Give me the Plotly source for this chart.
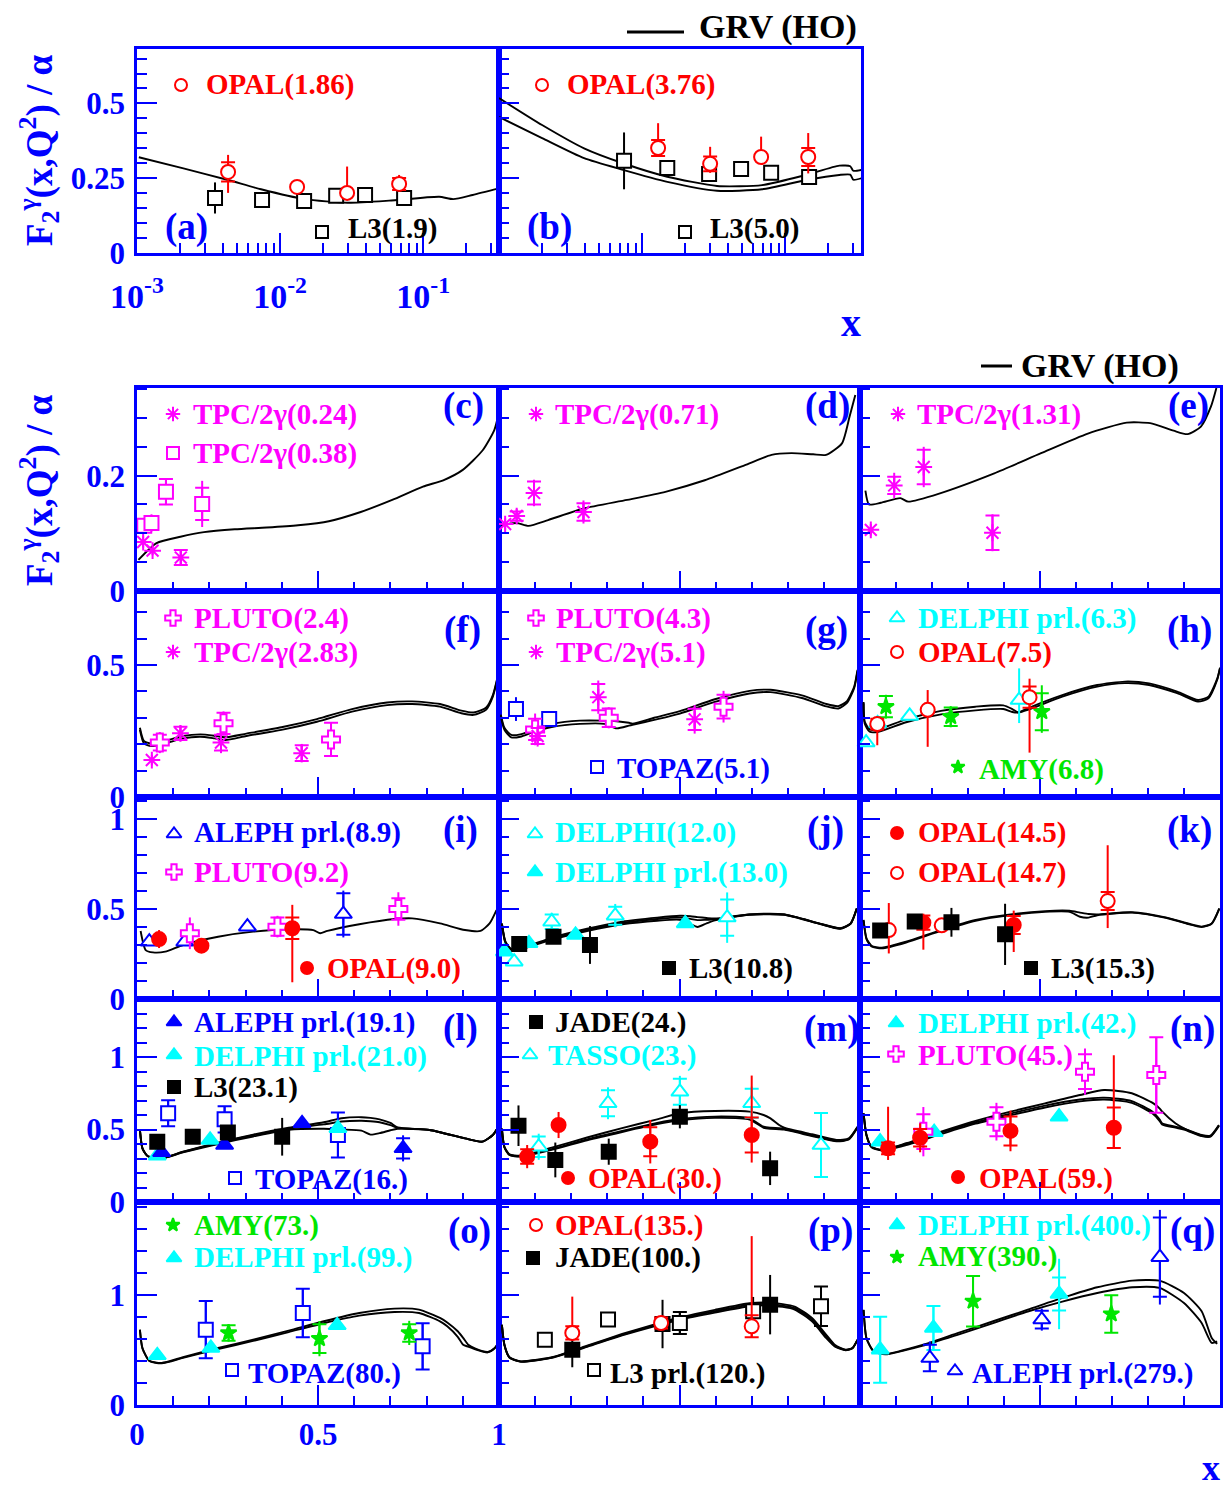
import plotly.graph_objects as go

W, H = 1225, 1491
FONT = "Liberation Serif"
BLUE, RED, MAG, CYAN, GREEN, BLACK = "#0000ff", "#ff0000", "#ff00ff", "#00ffff", "#00e600", "#000000"

# ------------------------------------------------------------------
# Photon structure function F2^gamma(x,Q^2)/alpha, <Q^2> in GeV^2
# ------------------------------------------------------------------
# (a) low-x, Q^2 ~ 1.9
a_opal_x = [0.00433, 0.01315, 0.0294, 0.0679]
a_opal_y = [0.271, 0.221, 0.201, 0.231]
a_opal_eup = [0.057, 0.015, 0.088, 0.030]
a_opal_edn = [0.070, 0.015, 0.024, 0.020]
a_opal_stat = [0.032, 0.0, 0.0, 0.020]
a_l3_x = [0.00351, 0.00748, 0.01472, 0.02466, 0.03926, 0.0736]
a_l3_y = [0.184, 0.177, 0.174, 0.191, 0.194, 0.184]
a_l3_err = [0.052, 0.010, 0.010, 0.010, 0.010, 0.012]
a_grv_x = [0.00103, 0.00211, 0.00433, 0.00736, 0.01486, 0.0296, 0.0578, 0.1294, 0.1622, 0.2218, 0.338]
a_grv_y = [0.320, 0.283, 0.244, 0.213, 0.180, 0.168, 0.175, 0.188, 0.180, 0.194, 0.216]

# (b) low-x, Q^2 ~ 3.8-5
b_opal_x = [0.01294, 0.0299, 0.0679, 0.1449]
b_opal_y = [0.351, 0.298, 0.321, 0.321]
b_opal_eup = [0.083, 0.057, 0.068, 0.080]
b_opal_edn = [0.030, 0.030, 0.020, 0.055]
b_opal_stat = [0.027, 0.025, 0.0, 0.030]
b_l3_x = [0.00748, 0.0150, 0.0294, 0.0492, 0.0798, 0.147]
b_l3_y = [0.308, 0.284, 0.264, 0.281, 0.268, 0.254]
b_l3_err = [0.095, 0.020, 0.015, 0.012, 0.012, 0.025]
b_grv_x = [0.00100, 0.00200, 0.00393, 0.00736, 0.0150, 0.0334, 0.0690, 0.140, 0.239, 0.285, 0.299, 0.342]
b_grv1_y = [0.518, 0.428, 0.350, 0.300, 0.255, 0.224, 0.227, 0.261, 0.292, 0.290, 0.275, 0.278]
b_grv2_y = [0.455, 0.384, 0.317, 0.278, 0.238, 0.208, 0.213, 0.244, 0.261, 0.262, 0.245, 0.250]

# (c)
c_tpc24_x = [0.017, 0.043, 0.121]
c_tpc24_y = [0.085, 0.070, 0.058]
c_tpc24_err = [0.010, 0.008, 0.013]
c_tpc24_stat = [0.0, 0.0, 0.013]
c_tpc38_x = [0.020, 0.040, 0.080, 0.180]
c_tpc38_y = [0.113, 0.118, 0.172, 0.151]
c_tpc38_err = [0.012, 0.015, 0.023, 0.040]
c_tpc38_stat = [0.0, 0.0, 0.022, 0.028]
c_grv_x = [0.004, 0.054, 0.12, 0.185, 0.27, 0.358, 0.445, 0.53, 0.618, 0.705, 0.79, 0.846, 0.90, 0.955, 0.987, 1.0]
c_grv_y = [0.054, 0.083, 0.094, 0.102, 0.107, 0.110, 0.114, 0.121, 0.137, 0.158, 0.181, 0.192, 0.21, 0.244, 0.279, 0.31]

# (d)
d_tpc_x = [0.017, 0.049, 0.097, 0.234]
d_tpc_y = [0.116, 0.130, 0.170, 0.137]
d_tpc_err = [0.010, 0.012, 0.023, 0.020]
d_tpc_stat = [0.0, 0.008, 0.020, 0.015]
d_grv_x = [0.006, 0.049, 0.082, 0.136, 0.234, 0.355, 0.461, 0.57, 0.68, 0.755, 0.81, 0.87, 0.906, 0.95, 0.971, 0.987]
d_grv_y = [0.114, 0.118, 0.113, 0.123, 0.143, 0.158, 0.172, 0.192, 0.218, 0.236, 0.239, 0.237, 0.236, 0.256, 0.302, 0.34]

# (e)
e_tpc_x = [0.030, 0.095, 0.177, 0.368]
e_tpc_y = [0.106, 0.183, 0.215, 0.101]
e_tpc_err = [0.010, 0.022, 0.035, 0.032]
e_tpc_stat = [0.0, 0.015, 0.030, 0.030]
e_grv_x = [0.015, 0.025, 0.058, 0.112, 0.134, 0.22, 0.373, 0.503, 0.633, 0.741, 0.806, 0.871, 0.91, 0.947, 0.975, 0.99]
e_grv_y = [0.174, 0.150, 0.153, 0.161, 0.155, 0.169, 0.204, 0.239, 0.273, 0.292, 0.291, 0.278, 0.272, 0.285, 0.32, 0.352]

# (f)
f_pluto_x = [0.063, 0.239, 0.536]
f_pluto_y = [0.206, 0.279, 0.218]
f_pluto_err = [0.040, 0.045, 0.063]
f_pluto_stat = [0.030, 0.040, 0.063]
f_tpc_x = [0.041, 0.120, 0.232, 0.455]
f_tpc_y = [0.140, 0.241, 0.206, 0.166]
f_tpc_err = [0.020, 0.030, 0.040, 0.035]
f_tpc_stat = [0.0, 0.025, 0.030, 0.030]
f_grv_x = [0.008, 0.019, 0.039, 0.078, 0.127, 0.175, 0.214, 0.244, 0.302, 0.399, 0.497, 0.594, 0.691, 0.760, 0.837, 0.896, 0.930, 0.964, 0.983, 0.998]
f_grv1_y = [0.254, 0.203, 0.193, 0.203, 0.222, 0.228, 0.222, 0.216, 0.231, 0.254, 0.285, 0.323, 0.348, 0.352, 0.342, 0.317, 0.311, 0.330, 0.380, 0.462]
f_grv2_y = [0.262, 0.212, 0.202, 0.212, 0.231, 0.237, 0.232, 0.226, 0.240, 0.264, 0.295, 0.333, 0.358, 0.362, 0.352, 0.327, 0.320, 0.338, 0.386, 0.466]

# (g)
g_topaz_x = [0.047, 0.139]
g_topaz_y = [0.333, 0.295]
g_topaz_err = [0.045, 0.025]
g_pluto_x = [0.100, 0.304, 0.622]
g_pluto_y = [0.256, 0.300, 0.342]
g_pluto_err = [0.060, 0.040, 0.060]
g_pluto_stat = [0.040, 0.035, 0.045]
g_tpc_x = [0.107, 0.275, 0.542]
g_tpc_y = [0.231, 0.378, 0.294]
g_tpc_err = [0.040, 0.063, 0.054]
g_tpc_stat = [0.030, 0.050, 0.040]
g_grv_x = [0.005, 0.015, 0.034, 0.059, 0.097, 0.146, 0.224, 0.292, 0.326, 0.360, 0.370, 0.430, 0.501, 0.598, 0.694, 0.752, 0.839, 0.907, 0.940, 0.964, 0.984, 0.993]
g_grv1_y = [0.307, 0.254, 0.226, 0.228, 0.247, 0.265, 0.277, 0.277, 0.260, 0.270, 0.273, 0.292, 0.316, 0.360, 0.392, 0.397, 0.375, 0.343, 0.335, 0.356, 0.413, 0.476]
g_grv2_y = [0.312, 0.262, 0.235, 0.237, 0.256, 0.276, 0.289, 0.289, 0.287, 0.281, 0.278, 0.300, 0.325, 0.370, 0.402, 0.406, 0.385, 0.352, 0.344, 0.363, 0.418, 0.481]

# (h)
h_delphi_x = [0.017, 0.049, 0.138, 0.442]
h_delphi_y = [0.206, 0.279, 0.307, 0.367]
h_delphi_eup = [0.010, 0.010, 0.010, 0.120]
h_delphi_edn = [0.010, 0.010, 0.010, 0.087]
h_opal_x = [0.048, 0.188, 0.471]
h_opal_y = [0.276, 0.330, 0.378]
h_opal_eup = [0.030, 0.075, 0.070]
h_opal_edn = [0.080, 0.140, 0.210]
h_opal_stat = [0.020, 0.0, 0.040]
h_amy_x = [0.072, 0.252, 0.505]
h_amy_y = [0.342, 0.304, 0.323]
h_amy_eup = [0.045, 0.040, 0.100]
h_amy_edn = [0.045, 0.040, 0.080]
h_amy_stat = [0.040, 0.035, 0.070]
h_grv_x = [0.010, 0.013, 0.027, 0.051, 0.128, 0.225, 0.321, 0.398, 0.423, 0.440, 0.466, 0.562, 0.659, 0.736, 0.803, 0.881, 0.939, 0.968, 0.992, 1.0]
h_grv1_y = [0.355, 0.278, 0.247, 0.247, 0.283, 0.313, 0.328, 0.333, 0.322, 0.320, 0.330, 0.380, 0.418, 0.431, 0.424, 0.393, 0.361, 0.374, 0.443, 0.487]
h_grv2_y = [0.360, 0.286, 0.256, 0.256, 0.294, 0.326, 0.342, 0.347, 0.333, 0.320, 0.336, 0.386, 0.424, 0.437, 0.430, 0.399, 0.367, 0.380, 0.447, 0.490]

# (i)
i_aleph_x = [0.034, 0.132, 0.305, 0.570]
i_aleph_y = [0.318, 0.318, 0.402, 0.472]
i_aleph_err = [0.010, 0.010, 0.010, 0.130]
i_aleph_stat = [0.0, 0.0, 0.0, 0.115]
i_pluto_x = [0.146, 0.388, 0.722]
i_pluto_y = [0.365, 0.402, 0.500]
i_pluto_err = [0.088, 0.060, 0.093]
i_pluto_stat = [0.0, 0.050, 0.060]
i_opal_x = [0.061, 0.178, 0.429]
i_opal_y = [0.333, 0.296, 0.393]
i_opal_eup = [0.050, 0.040, 0.130]
i_opal_edn = [0.050, 0.040, 0.300]
i_opal_stat = [0.0, 0.0, 0.060]
i_grv_x = [0.010, 0.024, 0.044, 0.078, 0.127, 0.224, 0.321, 0.419, 0.487, 0.506, 0.526, 0.614, 0.711, 0.760, 0.837, 0.906, 0.949, 0.974, 0.993]
i_grv_y = [0.378, 0.272, 0.259, 0.263, 0.300, 0.346, 0.374, 0.387, 0.383, 0.365, 0.378, 0.415, 0.444, 0.448, 0.420, 0.383, 0.378, 0.420, 0.494]

# (j)
j_delphi12_x = [0.042, 0.146, 0.322, 0.632]
j_delphi12_y = [0.207, 0.429, 0.463, 0.452]
j_delphi12_err = [0.010, 0.050, 0.065, 0.140]
j_delphi12_stat = [0.0, 0.040, 0.050, 0.100]
j_delphi13_x = [0.015, 0.083, 0.212, 0.516]
j_delphi13_y = [0.263, 0.309, 0.356, 0.420]
j_l3_x = [0.056, 0.151, 0.252]
j_l3_y = [0.306, 0.346, 0.300]
j_l3_err = [0.020, 0.020, 0.105]
j_grv_x = [0.008, 0.018, 0.034, 0.059, 0.146, 0.244, 0.341, 0.438, 0.501, 0.530, 0.550, 0.575, 0.598, 0.694, 0.790, 0.887, 0.945, 0.974, 0.991]
j_grv1_y = [0.420, 0.318, 0.278, 0.281, 0.340, 0.390, 0.430, 0.452, 0.462, 0.460, 0.455, 0.450, 0.447, 0.470, 0.470, 0.420, 0.393, 0.420, 0.504]
j_grv2_y = [0.415, 0.310, 0.272, 0.276, 0.330, 0.378, 0.415, 0.435, 0.440, 0.415, 0.400, 0.420, 0.437, 0.468, 0.468, 0.418, 0.390, 0.418, 0.500]
j_grv3_y = [0.418, 0.314, 0.275, 0.279, 0.335, 0.384, 0.422, 0.444, 0.452, 0.445, 0.438, 0.440, 0.442, 0.469, 0.469, 0.419, 0.392, 0.419, 0.502]

# (k)
k_opal145_x = [0.176, 0.427]
k_opal145_y = [0.424, 0.411]
k_opal145_eup = [0.050, 0.080]
k_opal145_edn = [0.150, 0.150]
k_opal145_stat = [0.040, 0.050]
k_opal147_x = [0.080, 0.227, 0.688]
k_opal147_y = [0.383, 0.409, 0.544]
k_opal147_eup = [0.150, 0.010, 0.310]
k_opal147_edn = [0.130, 0.010, 0.150]
k_opal147_stat = [0.0, 0.0, 0.050]
k_l3_x = [0.056, 0.152, 0.254, 0.403]
k_l3_y = [0.380, 0.430, 0.426, 0.359]
k_l3_err = [0.020, 0.020, 0.080, 0.170]
k_grv_x = [0.010, 0.018, 0.032, 0.061, 0.128, 0.225, 0.321, 0.418, 0.514, 0.582, 0.611, 0.635, 0.659, 0.756, 0.852, 0.949, 0.977, 0.998]
k_grv1_y = [0.439, 0.337, 0.296, 0.285, 0.318, 0.383, 0.439, 0.470, 0.488, 0.490, 0.480, 0.472, 0.470, 0.482, 0.452, 0.402, 0.420, 0.504]
k_grv2_y = [0.436, 0.333, 0.292, 0.281, 0.314, 0.378, 0.434, 0.466, 0.484, 0.484, 0.457, 0.452, 0.465, 0.480, 0.450, 0.400, 0.418, 0.500]

# (l)
l_aleph_x = [0.068, 0.242, 0.456, 0.735]
l_aleph_y = [0.343, 0.393, 0.543, 0.370]
l_aleph_err = [0.010, 0.010, 0.010, 0.090]
l_aleph_stat = [0.0, 0.0, 0.0, 0.070]
l_delphi_x = [0.056, 0.202, 0.555]
l_delphi_y = [0.319, 0.428, 0.508]
l_l3_x = [0.056, 0.154, 0.251, 0.401]
l_l3_y = [0.416, 0.450, 0.480, 0.450]
l_l3_err = [0.020, 0.020, 0.020, 0.130]
l_topaz_x = [0.086, 0.242, 0.555]
l_topaz_y = [0.612, 0.570, 0.462]
l_topaz_err = [0.090, 0.090, 0.155]
l_grv_x = [0.008, 0.015, 0.029, 0.068, 0.127, 0.224, 0.321, 0.419, 0.516, 0.565, 0.620, 0.645, 0.670, 0.700, 0.720, 0.808, 0.906, 0.954, 0.983, 0.998]
l_grv1_y = [0.497, 0.370, 0.317, 0.301, 0.347, 0.410, 0.465, 0.512, 0.550, 0.578, 0.585, 0.580, 0.570, 0.545, 0.515, 0.497, 0.439, 0.416, 0.462, 0.519]
l_grv2_y = [0.497, 0.370, 0.317, 0.301, 0.345, 0.405, 0.460, 0.506, 0.535, 0.555, 0.560, 0.557, 0.550, 0.530, 0.510, 0.497, 0.439, 0.416, 0.462, 0.519]
l_grv3_y = [0.497, 0.370, 0.317, 0.301, 0.342, 0.400, 0.452, 0.498, 0.505, 0.500, 0.492, 0.465, 0.475, 0.495, 0.505, 0.497, 0.439, 0.416, 0.462, 0.519]

# (m)
m_jade_x = [0.054, 0.156, 0.304, 0.501, 0.751]
m_jade_y = [0.526, 0.290, 0.347, 0.588, 0.232]
m_jade_err = [0.140, 0.120, 0.090, 0.080, 0.115]
m_tasso_x = [0.110, 0.302, 0.501, 0.700, 0.892]
m_tasso_y = [0.381, 0.681, 0.760, 0.681, 0.393]
m_tasso_err = [0.090, 0.110, 0.110, 0.115, 0.220]
m_tasso_stat = [0.070, 0.090, 0.090, 0.100, 0.220]
m_opal_x = [0.078, 0.165, 0.419, 0.700]
m_opal_y = [0.313, 0.531, 0.416, 0.462]
m_opal_eup = [0.080, 0.090, 0.150, 0.410]
m_opal_edn = [0.080, 0.090, 0.150, 0.190]
m_opal_stat = [0.050, 0.0, 0.100, 0.120]
m_grv_x = [0.008, 0.015, 0.029, 0.059, 0.146, 0.244, 0.341, 0.438, 0.501, 0.598, 0.694, 0.733, 0.752, 0.776, 0.790, 0.867, 0.935, 0.969, 0.993]
m_grv1_y = [0.508, 0.381, 0.329, 0.319, 0.375, 0.445, 0.510, 0.570, 0.612, 0.628, 0.623, 0.600, 0.577, 0.531, 0.512, 0.467, 0.428, 0.439, 0.519]
m_grv2_y = [0.505, 0.378, 0.326, 0.316, 0.365, 0.432, 0.490, 0.545, 0.572, 0.589, 0.577, 0.519, 0.512, 0.509, 0.505, 0.460, 0.422, 0.434, 0.515]
m_grv3_y = [0.503, 0.376, 0.324, 0.313, 0.360, 0.426, 0.483, 0.537, 0.563, 0.580, 0.568, 0.512, 0.505, 0.502, 0.499, 0.455, 0.418, 0.431, 0.512]

# (n)
n_delphi_x = [0.056, 0.206, 0.553]
n_delphi_y = [0.416, 0.481, 0.588]
n_pluto_x = [0.176, 0.379, 0.625, 0.823]
n_pluto_y = [0.485, 0.554, 0.899, 0.876]
n_pluto_err = [0.170, 0.130, 0.160, 0.260]
n_pluto_stat = [0.120, 0.100, 0.120, 0.260]
n_opal_x = [0.078, 0.167, 0.418, 0.705]
n_opal_y = [0.370, 0.443, 0.490, 0.512]
n_opal_eup = [0.287, 0.100, 0.140, 0.500]
n_opal_edn = [0.080, 0.100, 0.140, 0.140]
n_opal_stat = [0.040, 0.060, 0.100, 0.140]
n_grv_x = [0.010, 0.018, 0.032, 0.061, 0.128, 0.225, 0.321, 0.418, 0.514, 0.611, 0.678, 0.755, 0.815, 0.832, 0.839, 0.876, 0.900, 0.949, 0.973, 0.997]
n_grv1_y = [0.612, 0.462, 0.381, 0.359, 0.405, 0.485, 0.559, 0.623, 0.680, 0.738, 0.772, 0.750, 0.680, 0.646, 0.625, 0.543, 0.508, 0.462, 0.457, 0.531]
n_grv2_y = [0.612, 0.462, 0.381, 0.359, 0.400, 0.478, 0.550, 0.610, 0.665, 0.707, 0.720, 0.696, 0.618, 0.570, 0.543, 0.520, 0.505, 0.458, 0.453, 0.528]
n_grv3_y = [0.608, 0.458, 0.377, 0.355, 0.392, 0.468, 0.540, 0.598, 0.652, 0.694, 0.707, 0.684, 0.606, 0.560, 0.535, 0.513, 0.500, 0.454, 0.450, 0.525]

# (o)
o_amy_x = [0.253, 0.504, 0.752]
o_amy_y = [0.655, 0.603, 0.655]
o_amy_err = [0.080, 0.160, 0.110]
o_amy_stat = [0.070, 0.130, 0.080]
o_delphi_x = [0.056, 0.204, 0.553]
o_delphi_y = [0.452, 0.518, 0.724]
o_topaz_x = [0.190, 0.458, 0.789]
o_topaz_y = [0.685, 0.836, 0.533]
o_topaz_err = [0.260, 0.220, 0.210]
o_grv_x = [0.008, 0.015, 0.034, 0.068, 0.127, 0.224, 0.321, 0.419, 0.516, 0.614, 0.711, 0.779, 0.837, 0.857, 0.886, 0.901, 0.915, 0.935, 0.969, 0.988, 0.998]
o_grv1_y = [0.685, 0.518, 0.403, 0.382, 0.434, 0.518, 0.594, 0.676, 0.761, 0.836, 0.876, 0.867, 0.791, 0.750, 0.670, 0.610, 0.548, 0.512, 0.482, 0.518, 0.564]
o_grv2_y = [0.682, 0.515, 0.400, 0.379, 0.428, 0.508, 0.583, 0.663, 0.743, 0.812, 0.845, 0.836, 0.760, 0.715, 0.620, 0.548, 0.530, 0.505, 0.478, 0.515, 0.560]

# (p)
p_opal_x = [0.203, 0.449, 0.700]
p_opal_y = [0.655, 0.745, 0.715]
p_opal_eup = [0.330, 0.060, 0.820]
p_opal_edn = [0.060, 0.060, 0.100]
p_opal_stat = [0.060, 0.050, 0.100]
p_jade_x = [0.203, 0.453, 0.751]
p_jade_y = [0.503, 0.736, 0.912]
p_jade_err = [0.160, 0.220, 0.270]
p_l3_x = [0.127, 0.302, 0.501, 0.704, 0.892]
p_l3_y = [0.594, 0.776, 0.745, 0.852, 0.897]
p_l3_err = [0.020, 0.020, 0.100, 0.130, 0.180]
p_l3_stat = [0.0, 0.0, 0.100, 0.060, 0.180]
p_grv_x = [0.008, 0.015, 0.029, 0.059, 0.146, 0.244, 0.341, 0.438, 0.501, 0.598, 0.694, 0.752, 0.819, 0.867, 0.906, 0.931, 0.960, 0.979, 0.993]
p_grv1_y = [0.730, 0.548, 0.434, 0.397, 0.434, 0.540, 0.645, 0.740, 0.795, 0.865, 0.925, 0.930, 0.895, 0.790, 0.640, 0.545, 0.503, 0.518, 0.594]
p_grv2_y = [0.727, 0.545, 0.431, 0.394, 0.428, 0.528, 0.632, 0.722, 0.775, 0.840, 0.898, 0.905, 0.868, 0.760, 0.610, 0.530, 0.498, 0.515, 0.590]
p_grv3_y = [0.728, 0.546, 0.432, 0.395, 0.431, 0.534, 0.638, 0.731, 0.785, 0.852, 0.911, 0.917, 0.881, 0.775, 0.625, 0.537, 0.500, 0.516, 0.592]

# (q)
q_delphi_x = [0.056, 0.204, 0.553]
q_delphi_y = [0.503, 0.700, 1.009]
q_delphi_err = [0.300, 0.200, 0.320]
q_delphi_stat = [0.300, 0.200, 0.150]
q_amy_x = [0.314, 0.698]
q_amy_y = [0.943, 0.827]
q_amy_err = [0.230, 0.170]
q_aleph_x = [0.194, 0.505, 0.833]
q_aleph_y = [0.427, 0.776, 1.343]
q_aleph_eup = [0.150, 0.100, 0.430]
q_aleph_edn = [0.120, 0.100, 0.430]
q_aleph_stat = [0.120, 0.080, 0.360]
q_grv_x = [0.010, 0.018, 0.037, 0.070, 0.176, 0.273, 0.370, 0.466, 0.562, 0.659, 0.756, 0.832, 0.900, 0.949, 0.977, 0.992]
q_grv1_y = [0.866, 0.609, 0.494, 0.464, 0.548, 0.655, 0.761, 0.866, 0.973, 1.070, 1.130, 1.130, 1.018, 0.852, 0.609, 0.555]
q_grv2_y = [0.862, 0.605, 0.490, 0.460, 0.540, 0.640, 0.745, 0.850, 0.940, 1.018, 1.070, 1.064, 0.927, 0.745, 0.564, 0.579]

# axis tick labels
LOG_TICKS = [0.001, 0.01, 0.1]
LOG_LABELS = ["10<sup>-3</sup>", "10<sup>-2</sup>", "10<sup>-1</sup>"]
X_TICKS = [0, 0.5, 1]
X_LABELS = ["0", "0.5", "1"]

# ------------------------------------------------------------------
# Panel geometry (pixels) and axis setup
# ------------------------------------------------------------------
XLOG = [-3.0, -0.47]
COLS = [(137, 499), (499, 860), (860, 1220)]
ROWS = [(388, 591), (591, 797), (797, 999), (999, 1202), (1202, 1405)]
ROW_YMAX = [0.352, 0.78, 1.122, 1.40, 1.845]
ROW_MAJOR = [[0, 0.2], [0, 0.5], [0, 0.5, 1], [0, 0.5, 1], [0, 1]]
ROW_MINOR = [0.05, 0.1, 0.1, 0.1, 0.2]

ORDER = list("abcdefghijklmnopq")
GEOM = {"a": ((137, 499), (49, 253)), "b": ((499, 861), (49, 253))}
YMAX = {"a": 0.682, "b": 0.682}
for k, p in enumerate(ORDER[2:]):
    r, c = divmod(k, 3)
    GEOM[p] = (COLS[c], ROWS[r])
    YMAX[p] = ROW_YMAX[r]

AX = {}
for i, p in enumerate(ORDER, start=1):
    s = "" if i == 1 else str(i)
    AX[p] = ("x" + s, "y" + s, "xaxis" + s, "yaxis" + s)


def to_data(p, px, py):
    (x0, x1), (y0, y1) = GEOM[p]
    fx = (px - x0) / (x1 - x0)
    fy = (y1 - py) / (y1 - y0)
    if p in ("a", "b"):
        x = 10 ** (XLOG[0] + fx * (XLOG[1] - XLOG[0]))
    else:
        x = fx
    return x, fy * YMAX[p]


STY = {
    "opal_o": dict(symbol="circle", fill="white", line=RED, size=14),
    "opal_f": dict(symbol="circle", fill=RED, line=RED, size=14),
    "l3_o": dict(symbol="square", fill="white", line=BLACK, size=14),
    "l3_f": dict(symbol="square", fill=BLACK, line=BLACK, size=14),
    "topaz": dict(symbol="square", fill="white", line=BLUE, size=14),
    "tpc": dict(symbol="asterisk-open", fill=MAG, line=MAG, size=14),
    "tpc_sq": dict(symbol="square", fill="white", line=MAG, size=14),
    "pluto": dict(symbol="cross", fill="white", line=MAG, size=15),
    "delphi_o": dict(symbol="triangle-up", fill="white", line=CYAN, size=15),
    "delphi_f": dict(symbol="triangle-up", fill=CYAN, line=CYAN, size=15),
    "aleph_o": dict(symbol="triangle-up", fill="white", line=BLUE, size=15),
    "aleph_f": dict(symbol="triangle-up", fill=BLUE, line=BLUE, size=15),
    "amy": dict(symbol="star", fill=GREEN, line=GREEN, size=12),
}

fig = go.Figure()


def add_curve(p, x, y):
    xa, ya = AX[p][0], AX[p][1]
    fig.add_trace(go.Scatter(x=x, y=y, mode="lines", xaxis=xa, yaxis=ya,
                             line=dict(color=BLACK, width=1.9, shape="spline", smoothing=0.6),
                             hoverinfo="skip", showlegend=False))


def add_points(p, x, y, sty, eup=None, edn=None, stat=None):
    xa, ya = AX[p][0], AX[p][1]
    s = STY[sty]
    if eup is not None:
        dn = eup if edn is None else edn
        fig.add_trace(go.Scatter(
            x=x, y=y, mode="markers", xaxis=xa, yaxis=ya, cliponaxis=False,
            marker=dict(size=1, color="rgba(0,0,0,0)"),
            error_y=dict(type="data", symmetric=False, array=eup, arrayminus=dn,
                         width=0, thickness=2, color=s["line"]),
            hoverinfo="skip", showlegend=False))
    if stat is not None:
        sel = [k for k, v in enumerate(stat) if v > 0]
        if sel:
            fig.add_trace(go.Scatter(
                x=[x[k] for k in sel], y=[y[k] for k in sel], mode="markers",
                xaxis=xa, yaxis=ya, cliponaxis=False,
                marker=dict(size=1, color="rgba(0,0,0,0)"),
                error_y=dict(type="data", array=[stat[k] for k in sel],
                             width=7, thickness=2, color=s["line"]),
                hoverinfo="skip", showlegend=False))
    fig.add_trace(go.Scatter(
        x=x, y=y, mode="markers", xaxis=xa, yaxis=ya, cliponaxis=False,
        marker=dict(symbol=s["symbol"], size=s["size"], color=s["fill"],
                    line=dict(color=s["line"], width=2)),
        showlegend=False))


# theory curves
add_curve("a", a_grv_x, a_grv_y)
add_curve("b", b_grv_x, b_grv1_y)
add_curve("b", b_grv_x, b_grv2_y)
add_curve("c", c_grv_x, c_grv_y)
add_curve("d", d_grv_x, d_grv_y)
add_curve("e", e_grv_x, e_grv_y)
add_curve("f", f_grv_x, f_grv1_y)
add_curve("f", f_grv_x, f_grv2_y)
add_curve("g", g_grv_x, g_grv1_y)
add_curve("g", g_grv_x, g_grv2_y)
add_curve("h", h_grv_x, h_grv1_y)
add_curve("h", h_grv_x, h_grv2_y)
add_curve("i", i_grv_x, i_grv_y)
for yy in (j_grv1_y, j_grv2_y, j_grv3_y):
    add_curve("j", j_grv_x, yy)
add_curve("k", k_grv_x, k_grv1_y)
add_curve("k", k_grv_x, k_grv2_y)
for yy in (l_grv1_y, l_grv2_y, l_grv3_y):
    add_curve("l", l_grv_x, yy)
for yy in (m_grv1_y, m_grv2_y, m_grv3_y):
    add_curve("m", m_grv_x, yy)
for yy in (n_grv1_y, n_grv2_y, n_grv3_y):
    add_curve("n", n_grv_x, yy)
add_curve("o", o_grv_x, o_grv1_y)
add_curve("o", o_grv_x, o_grv2_y)
for yy in (p_grv1_y, p_grv2_y, p_grv3_y):
    add_curve("p", p_grv_x, yy)
add_curve("q", q_grv_x, q_grv1_y)
add_curve("q", q_grv_x, q_grv2_y)

# measurements
add_points("a", a_l3_x, a_l3_y, "l3_o", a_l3_err)
add_points("a", a_opal_x, a_opal_y, "opal_o", a_opal_eup, a_opal_edn, a_opal_stat)
add_points("b", b_l3_x, b_l3_y, "l3_o", b_l3_err)
add_points("b", b_opal_x, b_opal_y, "opal_o", b_opal_eup, b_opal_edn, b_opal_stat)
add_points("c", c_tpc24_x, c_tpc24_y, "tpc", c_tpc24_err, None, c_tpc24_stat)
add_points("c", c_tpc38_x, c_tpc38_y, "tpc_sq", c_tpc38_err, None, c_tpc38_stat)
add_points("d", d_tpc_x, d_tpc_y, "tpc", d_tpc_err, None, d_tpc_stat)
add_points("e", e_tpc_x, e_tpc_y, "tpc", e_tpc_err, None, e_tpc_stat)
add_points("f", f_pluto_x, f_pluto_y, "pluto", f_pluto_err, None, f_pluto_stat)
add_points("f", f_tpc_x, f_tpc_y, "tpc", f_tpc_err, None, f_tpc_stat)
add_points("g", g_topaz_x, g_topaz_y, "topaz", g_topaz_err)
add_points("g", g_pluto_x, g_pluto_y, "pluto", g_pluto_err, None, g_pluto_stat)
add_points("g", g_tpc_x, g_tpc_y, "tpc", g_tpc_err, None, g_tpc_stat)
add_points("h", h_delphi_x, h_delphi_y, "delphi_o", h_delphi_eup, h_delphi_edn)
add_points("h", h_amy_x, h_amy_y, "amy", h_amy_eup, h_amy_edn, h_amy_stat)
add_points("h", h_opal_x, h_opal_y, "opal_o", h_opal_eup, h_opal_edn, h_opal_stat)
add_points("i", i_aleph_x, i_aleph_y, "aleph_o", i_aleph_err, None, i_aleph_stat)
add_points("i", i_pluto_x, i_pluto_y, "pluto", i_pluto_err, None, i_pluto_stat)
add_points("i", i_opal_x, i_opal_y, "opal_f", i_opal_eup, i_opal_edn, i_opal_stat)
add_points("j", j_delphi12_x, j_delphi12_y, "delphi_o", j_delphi12_err, None, j_delphi12_stat)
add_points("j", j_delphi13_x, j_delphi13_y, "delphi_f")
add_points("j", j_l3_x, j_l3_y, "l3_f", j_l3_err)
add_points("k", k_opal147_x, k_opal147_y, "opal_o", k_opal147_eup, k_opal147_edn, k_opal147_stat)
add_points("k", k_opal145_x, k_opal145_y, "opal_f", k_opal145_eup, k_opal145_edn, k_opal145_stat)
add_points("k", k_l3_x, k_l3_y, "l3_f", k_l3_err)
add_points("l", l_topaz_x, l_topaz_y, "topaz", l_topaz_err, None, l_topaz_err)
add_points("l", l_delphi_x, l_delphi_y, "delphi_f")
add_points("l", l_aleph_x, l_aleph_y, "aleph_f", l_aleph_err, None, l_aleph_stat)
add_points("l", l_l3_x, l_l3_y, "l3_f", l_l3_err)
add_points("m", m_tasso_x, m_tasso_y, "delphi_o", m_tasso_err, None, m_tasso_stat)
add_points("m", m_opal_x, m_opal_y, "opal_f", m_opal_eup, m_opal_edn, m_opal_stat)
add_points("m", m_jade_x, m_jade_y, "l3_f", m_jade_err)
add_points("n", n_delphi_x, n_delphi_y, "delphi_f")
add_points("n", n_pluto_x, n_pluto_y, "pluto", n_pluto_err, None, n_pluto_stat)
add_points("n", n_opal_x, n_opal_y, "opal_f", n_opal_eup, n_opal_edn, n_opal_stat)
add_points("o", o_topaz_x, o_topaz_y, "topaz", o_topaz_err, None, o_topaz_err)
add_points("o", o_amy_x, o_amy_y, "amy", o_amy_err, None, o_amy_stat)
add_points("o", o_delphi_x, o_delphi_y, "delphi_f")
add_points("p", p_l3_x, p_l3_y, "l3_o", p_l3_err, None, p_l3_stat)
add_points("p", p_jade_x, p_jade_y, "l3_f", p_jade_err)
add_points("p", p_opal_x, p_opal_y, "opal_o", p_opal_eup, p_opal_edn, p_opal_stat)
add_points("q", q_delphi_x, q_delphi_y, "delphi_f", q_delphi_err, None, q_delphi_stat)
add_points("q", q_amy_x, q_amy_y, "amy", q_amy_err, None, q_amy_err)
add_points("q", q_aleph_x, q_aleph_y, "aleph_o", q_aleph_eup, q_aleph_edn, q_aleph_stat)

# ------------------------------------------------------------------
# In-panel legends: (panel, style, key px, key py, text, text px, text py, colour)
# ------------------------------------------------------------------
LEGEND = [
    ("a", "opal_o", 181, 85, "OPAL(1.86)", 204, 84, RED),
    ("a", "l3_o", 322, 232, "L3(1.9)", 346, 228, BLACK),
    ("b", "opal_o", 542, 85, "OPAL(3.76)", 565, 84, RED),
    ("b", "l3_o", 685, 232, "L3(5.0)", 708, 228, BLACK),
    ("c", "tpc", 173, 414, "TPC/2γ(0.24)", 191, 414, MAG),
    ("c", "tpc_sq", 173, 453, "TPC/2γ(0.38)", 191, 453, MAG),
    ("d", "tpc", 536, 414, "TPC/2γ(0.71)", 553, 414, MAG),
    ("e", "tpc", 898, 414, "TPC/2γ(1.31)", 915, 414, MAG),
    ("f", "pluto", 173, 618, "PLUTO(2.4)", 192, 618, MAG),
    ("f", "tpc", 173, 652, "TPC/2γ(2.83)", 192, 652, MAG),
    ("g", "pluto", 536, 618, "PLUTO(4.3)", 554, 618, MAG),
    ("g", "tpc", 536, 652, "TPC/2γ(5.1)", 554, 652, MAG),
    ("g", "topaz", 597, 767, "TOPAZ(5.1)", 615, 768, BLUE),
    ("h", "delphi_o", 897, 618, "DELPHI prl.(6.3)", 916, 618, CYAN),
    ("h", "opal_o", 897, 652, "OPAL(7.5)", 916, 652, RED),
    ("h", "amy", 958, 767, "AMY(6.8)", 977, 769, GREEN),
    ("i", "aleph_o", 174, 834, "ALEPH prl.(8.9)", 192, 833, BLUE),
    ("i", "pluto", 174, 872, "PLUTO(9.2)", 192, 872, MAG),
    ("i", "opal_f", 307, 968, "OPAL(9.0)", 325, 968, RED),
    ("j", "delphi_o", 535, 834, "DELPHI(12.0)", 553, 833, CYAN),
    ("j", "delphi_f", 535, 872, "DELPHI prl.(13.0)", 553, 872, CYAN),
    ("j", "l3_f", 669, 968, "L3(10.8)", 687, 968, BLACK),
    ("k", "opal_f", 897, 833, "OPAL(14.5)", 916, 833, RED),
    ("k", "opal_o", 897, 873, "OPAL(14.7)", 916, 873, RED),
    ("k", "l3_f", 1031, 968, "L3(15.3)", 1049, 968, BLACK),
    ("l", "aleph_f", 174, 1022, "ALEPH prl.(19.1)", 192, 1022, BLUE),
    ("l", "delphi_f", 174, 1055, "DELPHI prl.(21.0)", 192, 1056, CYAN),
    ("l", "l3_f", 174, 1087, "L3(23.1)", 192, 1087, BLACK),
    ("l", "topaz", 235, 1178, "TOPAZ(16.)", 253, 1179, BLUE),
    ("m", "l3_f", 536, 1022, "JADE(24.)", 553, 1022, BLACK),
    ("m", "delphi_o", 530, 1055, "TASSO(23.)", 546, 1055, CYAN),
    ("m", "opal_f", 568, 1178, "OPAL(30.)", 586, 1178, RED),
    ("n", "delphi_f", 896, 1023, "DELPHI prl.(42.)", 916, 1023, CYAN),
    ("n", "pluto", 896, 1054, "PLUTO(45.)", 916, 1055, MAG),
    ("n", "opal_f", 958, 1177, "OPAL(59.)", 977, 1178, RED),
    ("o", "amy", 173, 1225, "AMY(73.)", 192, 1225, GREEN),
    ("o", "delphi_f", 174, 1258, "DELPHI prl.(99.)", 192, 1257, CYAN),
    ("o", "topaz", 232, 1370, "TOPAZ(80.)", 246, 1373, BLUE),
    ("p", "opal_o", 536, 1225, "OPAL(135.)", 553, 1225, RED),
    ("p", "l3_f", 533, 1258, "JADE(100.)", 553, 1257, BLACK),
    ("p", "l3_o", 594, 1370, "L3 prl.(120.)", 608, 1373, BLACK),
    ("q", "delphi_f", 897, 1225, "DELPHI prl.(400.)", 916, 1225, CYAN),
    ("q", "amy", 897, 1257, "AMY(390.)", 916, 1256, GREEN),
    ("q", "aleph_o", 955, 1371, "ALEPH prl.(279.)", 970, 1373, BLUE),
]

PANEL_LABEL = {
    "a": (186, 227), "b": (549, 227),
    "c": (463, 406), "d": (827, 406), "e": (1188, 406),
    "f": (462, 630), "g": (826, 630), "h": (1189, 630),
    "i": (460, 830), "j": (825, 830), "k": (1189, 830),
    "l": (460, 1028), "m": (831, 1029), "n": (1192, 1029),
    "o": (469, 1231), "p": (830, 1231), "q": (1192, 1231),
}

annotations = []


def text(s, px, py, color, size=29, xanchor="left", angle=0, yanchor="middle"):
    annotations.append(dict(
        text=s, xref="paper", yref="paper", x=px / W, y=1 - py / H,
        xanchor=xanchor, yanchor=yanchor, showarrow=False, textangle=angle,
        font=dict(family=FONT, size=size, color=color, weight="bold")))


for p, sty, kx, ky, s, tx, ty, col in LEGEND:
    st = STY[sty]
    xk, yk = to_data(p, kx, ky)
    fig.add_trace(go.Scatter(
        x=[xk], y=[yk], mode="markers", xaxis=AX[p][0], yaxis=AX[p][1], cliponaxis=False,
        marker=dict(symbol=st["symbol"], size=st["size"] - 2, color=st["fill"],
                    line=dict(color=st["line"], width=2)),
        hoverinfo="skip", showlegend=False))
    text(s, tx, ty, col)

for p, (cx, cy) in PANEL_LABEL.items():
    text("(%s)" % p, cx, cy, BLUE, size=37, xanchor="center")

YTITLE = "F<sub>2</sub><sup>γ</sup>(x,Q<sup>2</sup>) / α"
text(YTITLE, 39, 150, BLUE, size=37, xanchor="center", angle=-90)
text(YTITLE, 39, 490, BLUE, size=37, xanchor="center", angle=-90)
text("x", 851, 322, BLUE, size=40, xanchor="center")
text("x", 1222, 1490, BLUE, size=36, xanchor="right", yanchor="bottom")
text("GRV (HO)", 697, 27, BLACK, size=34)
text("GRV (HO)", 1019, 366, BLACK, size=34)

shapes = [
    dict(type="line", xref="paper", yref="paper", x0=627 / W, x1=684 / W,
         y0=1 - 32 / H, y1=1 - 32 / H, line=dict(color=BLACK, width=3)),
    dict(type="line", xref="paper", yref="paper", x0=981 / W, x1=1012 / W,
         y0=1 - 366 / H, y1=1 - 366 / H, line=dict(color=BLACK, width=3)),
]

TICKFONT = dict(family=FONT, size=31, color=BLUE, weight="bold")
LOGFONT = dict(family=FONT, size=34, color=BLUE, weight="bold")
LOG_MINOR = [m * 10 ** e for e in (-3, -2, -1) for m in range(2, 10) if m * 10 ** e < 0.34]

layout = dict(
    width=W, height=H, margin=dict(l=0, r=0, t=0, b=0, pad=0, autoexpand=False),
    paper_bgcolor="white", plot_bgcolor="white", showlegend=False,
    annotations=annotations, shapes=shapes,
)

for k, p in enumerate(ORDER):
    (x0, x1), (y0, y1) = GEOM[p]
    common = dict(showline=True, mirror=True, linecolor=BLUE, linewidth=2.5,
                  showgrid=False, zeroline=False, ticks="inside", tickcolor=BLUE,
                  tickwidth=2, ticklen=20, fixedrange=True, tickfont=TICKFONT,
                  automargin=False)
    xa = dict(common, domain=[x0 / W, x1 / W], anchor=AX[p][1])
    if p in ("a", "b"):
        xa.update(type="log", range=XLOG, tickmode="array", tickvals=LOG_TICKS,
                  ticktext=LOG_LABELS, showticklabels=(p == "a"), ticklabelstandoff=11,
                  tickfont=LOGFONT,
                  minor=dict(tickmode="array", tickvals=LOG_MINOR, ticks="inside",
                             ticklen=10, tickcolor=BLUE, tickwidth=2))
        ya_major, ya_labels, ya_minor = [0, 0.25, 0.5], ["0", "0.25", "0.5"], 0.05
    else:
        r = (k - 2) // 3
        xa.update(range=[0, 1], tickmode="array", tickvals=X_TICKS, ticktext=X_LABELS,
                  showticklabels=(p == "o"), ticklabelstandoff=0,
                  minor=dict(tickmode="linear", tick0=0, dtick=0.1, ticks="inside",
                             ticklen=9, tickcolor=BLUE, tickwidth=2))
        ya_major = ROW_MAJOR[r]
        ya_labels = ["%g" % v for v in ya_major]
        ya_minor = ROW_MINOR[r]
    ya = dict(common, domain=[1 - y1 / H, 1 - y0 / H], anchor=AX[p][0],
              range=[0, YMAX[p]], tickmode="array", tickvals=ya_major, ticktext=ya_labels,
              showticklabels=(p in "acfilo"), ticklabelstandoff=3,
              minor=dict(tickmode="linear", tick0=0, dtick=ya_minor, ticks="inside",
                         ticklen=10, tickcolor=BLUE, tickwidth=2))
    layout[AX[p][2]] = xa
    layout[AX[p][3]] = ya

fig.update_layout(**layout)
fig.write_html("out.html")
